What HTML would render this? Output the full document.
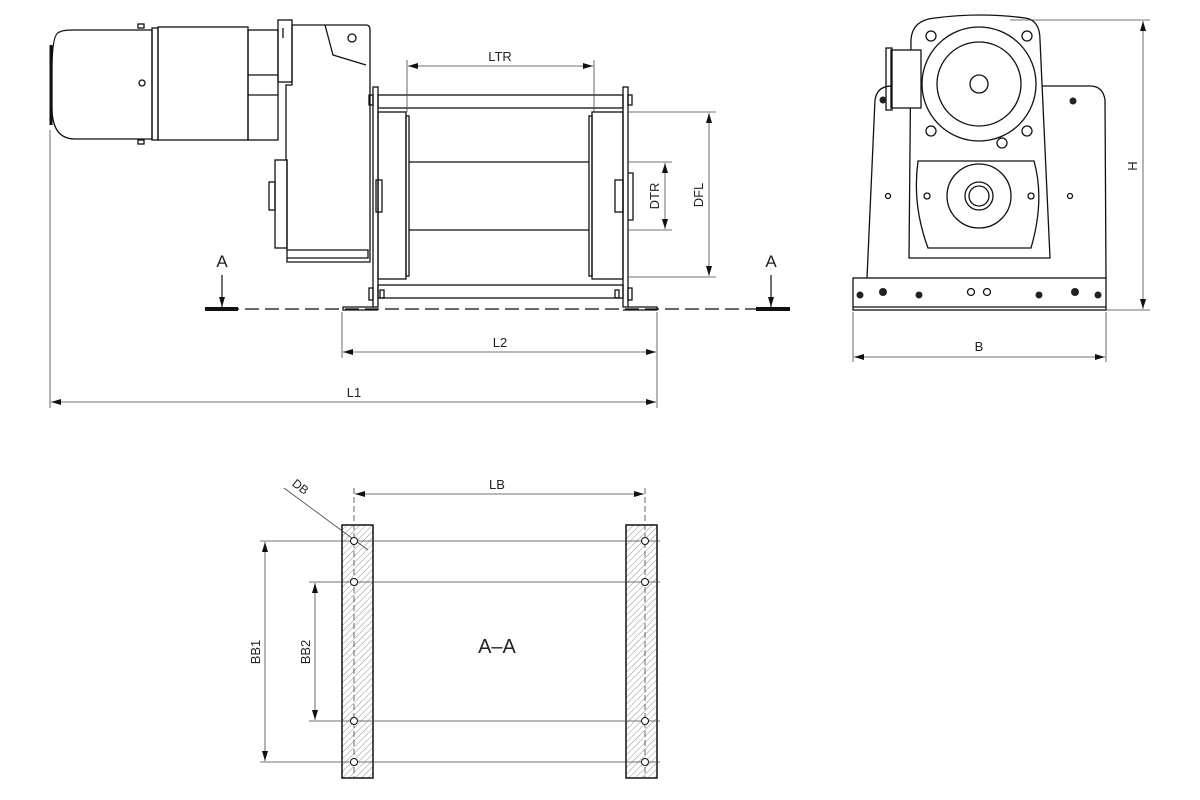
<!DOCTYPE html>
<html><head><meta charset="utf-8"><style>
html,body{margin:0;padding:0;background:#fff;}
svg{display:block;}
text{font-family:"Liberation Sans",sans-serif;fill:#222;}
</style></head><body>
<svg width="1200" height="800" viewBox="0 0 1200 800" xmlns="http://www.w3.org/2000/svg">
<defs>
<marker id="ar" viewBox="0 0 10 6" refX="10" refY="3" markerWidth="10" markerHeight="6" orient="auto-start-reverse" markerUnits="userSpaceOnUse"><path d="M0,0L10,3L0,6z" fill="#111"/></marker>
<pattern id="hatch" width="4.5" height="4.5" patternUnits="userSpaceOnUse" patternTransform="rotate(45)"><line x1="0" y1="0" x2="0" y2="4.5" stroke="#888" stroke-width="0.9"/></pattern>
</defs>
<g fill="none" stroke="#111" stroke-width="1.3">
<!-- Motor -->
<path d="M60,32 Q52,32 52,70 L52,108 Q52,139 75,139 L152,139 L152,30 L75,30 Q62,30 60,32z" fill="#fff"/>
<line x1="51" y1="45" x2="51" y2="125" stroke-width="3"/>
<rect x="152" y="28" width="6" height="112"/>
<rect x="158" y="27" width="90" height="113"/>
<circle cx="142" cy="83" r="3"/>
<rect x="138" y="24" width="6" height="4"/><rect x="138" y="140" width="6" height="4"/>
<rect x="248" y="30" width="30" height="110"/>
<line x1="248" y1="75" x2="278" y2="75"/><line x1="248" y1="95" x2="278" y2="95"/>
<rect x="278" y="20" width="14" height="62"/>
<line x1="283" y1="28" x2="283" y2="38"/>
<!-- Gearbox -->
<path d="M292,25 L366,25 Q370,25 370,30 L370,262 L287,262 L287,160 L286,160 L286,85 L292,85z"/>
<path d="M325,25 L333,55 L366,65"/>
<circle cx="352" cy="38" r="4"/>
<rect x="275" y="160" width="12" height="88"/>
<rect x="269" y="182" width="6" height="28"/>
<path d="M287,250 L368,250 L368,258 L287,258"/>
<!-- Frame -->
<rect x="373" y="87" width="5" height="220"/>
<rect x="623" y="87" width="5" height="220"/>
<rect x="378" y="95" width="245" height="13"/>
<rect x="378" y="285" width="245" height="13"/>
<rect x="378" y="112" width="28" height="167"/>
<rect x="406" y="116" width="3" height="160"/>
<rect x="592" y="112" width="31" height="167"/>
<rect x="589" y="116" width="3" height="160"/>
<line x1="409" y1="162" x2="589" y2="162"/>
<line x1="409" y1="230" x2="589" y2="230"/>
<rect x="376" y="180" width="6" height="32"/>
<rect x="615" y="180" width="8" height="32"/>
<path d="M628,173 L633,173 L633,220 L628,220"/>
<rect x="369" y="95" width="4" height="10"/><rect x="628" y="95" width="4" height="10"/>
<rect x="369" y="288" width="4" height="12"/><rect x="628" y="288" width="4" height="12"/>
<rect x="380" y="290" width="4" height="8"/><rect x="615" y="290" width="4" height="8"/>
<path d="M373,307 L343,307 L343,310 L378,310"/>
<path d="M628,307 L657,307 L657,310 L623,310"/>
</g>
<!-- section line -->
<line x1="205" y1="309" x2="790" y2="309" stroke="#111" stroke-width="1.3" stroke-dasharray="14,6"/>
<line x1="205" y1="309" x2="238" y2="309" stroke="#111" stroke-width="4"/>
<line x1="756" y1="309" x2="790" y2="309" stroke="#111" stroke-width="4"/>
<line x1="222" y1="275" x2="222" y2="307" stroke="#111" stroke-width="1.2" marker-end="url(#ar)"/>
<line x1="771" y1="275" x2="771" y2="307" stroke="#111" stroke-width="1.2" marker-end="url(#ar)"/>
<text x="222" y="267" font-size="17" text-anchor="middle">A</text>
<text x="771" y="267" font-size="17" text-anchor="middle">A</text>
<!-- dimensions side -->
<g stroke="#444" stroke-width="0.8" fill="none">
<line x1="407" y1="60" x2="407" y2="112"/><line x1="594" y1="60" x2="594" y2="112"/>
<line x1="408" y1="66" x2="593" y2="66" marker-start="url(#ar)" marker-end="url(#ar)"/>
<line x1="628" y1="162" x2="672" y2="162"/><line x1="628" y1="230" x2="672" y2="230"/>
<line x1="665" y1="163" x2="665" y2="229" marker-start="url(#ar)" marker-end="url(#ar)"/>
<line x1="628" y1="112" x2="716" y2="112"/><line x1="628" y1="277" x2="716" y2="277"/>
<line x1="709" y1="113" x2="709" y2="276" marker-start="url(#ar)" marker-end="url(#ar)"/>
<line x1="342" y1="312" x2="342" y2="358"/><line x1="657" y1="312" x2="657" y2="408"/>
<line x1="343" y1="352" x2="656" y2="352" marker-start="url(#ar)" marker-end="url(#ar)"/>
<line x1="50" y1="130" x2="50" y2="408"/>
<line x1="51" y1="402" x2="656" y2="402" marker-start="url(#ar)" marker-end="url(#ar)"/>
</g>
<text x="500" y="61" font-size="13" text-anchor="middle">LTR</text>
<text x="500" y="347" font-size="13" text-anchor="middle">L2</text>
<text x="354" y="397" font-size="13" text-anchor="middle">L1</text>
<text transform="translate(659,196) rotate(-90)" font-size="13" text-anchor="middle">DTR</text>
<text transform="translate(703,195) rotate(-90)" font-size="13" text-anchor="middle">DFL</text>
<!-- Front view -->
<g fill="none" stroke="#111" stroke-width="1.3">
<path d="M867,278 L875,100 Q877,86 892,86 L1090,86 Q1103,86 1105,100 L1106,278"/>
<path d="M909,258 L911,40 Q912,20 935,18 Q980,12 1025,18 Q1040,20 1040,40 L1050,258z" fill="#fff"/>
<circle cx="979" cy="84" r="57" fill="#fff"/>
<circle cx="979" cy="84" r="42"/>
<circle cx="979" cy="84" r="9"/>
<circle cx="931" cy="36" r="5"/><circle cx="1027" cy="36" r="5"/>
<circle cx="931" cy="131" r="5"/><circle cx="1027" cy="131" r="5"/>
<rect x="891" y="50" width="30" height="58" fill="#fff"/><rect x="886" y="48" width="6" height="62"/>
<circle cx="1002" cy="143" r="5"/>
<path d="M918,161 L1034,161 Q1045,200 1031,248 L928,248 Q912,205 918,161z"/>
<circle cx="979" cy="196" r="32"/>
<circle cx="979" cy="196" r="14"/><circle cx="979" cy="196" r="10"/>
<circle cx="927" cy="196" r="3"/><circle cx="1031" cy="196" r="3"/>
<circle cx="888" cy="196" r="2.5"/><circle cx="1070" cy="196" r="2.5"/>
<rect x="853" y="278" width="253" height="32" fill="#fff"/>
<line x1="853" y1="307" x2="1106" y2="307"/>
<circle cx="971" cy="292" r="3.5"/><circle cx="987" cy="292" r="3.5"/>
</g>
<g fill="#222">
<circle cx="860" cy="295" r="3.5"/><circle cx="883" cy="292" r="4"/><circle cx="919" cy="295" r="3.5"/>
<circle cx="1039" cy="295" r="3.5"/><circle cx="1075" cy="292" r="4"/><circle cx="1098" cy="295" r="3.5"/>
<circle cx="883" cy="100" r="3.5"/><circle cx="1073" cy="101" r="3.5"/>
</g>
<g stroke="#444" stroke-width="0.8" fill="none">
<line x1="1010" y1="20" x2="1150" y2="20"/><line x1="1106" y1="310" x2="1150" y2="310"/>
<line x1="1143" y1="21" x2="1143" y2="309" marker-start="url(#ar)" marker-end="url(#ar)"/>
<line x1="853" y1="312" x2="853" y2="362"/><line x1="1106" y1="312" x2="1106" y2="362"/>
<line x1="854" y1="357" x2="1105" y2="357" marker-start="url(#ar)" marker-end="url(#ar)"/>
</g>
<text transform="translate(1137,166) rotate(-90)" font-size="13" text-anchor="middle">H</text>
<text x="979" y="351" font-size="13" text-anchor="middle">B</text>
<!-- Section A-A -->
<rect x="342" y="525" width="31" height="253" fill="url(#hatch)" stroke="#111" stroke-width="1.5"/>
<rect x="626" y="525" width="31" height="253" fill="url(#hatch)" stroke="#111" stroke-width="1.5"/>
<g stroke="#444" stroke-width="0.8" fill="none">
<line x1="260" y1="541" x2="660" y2="541"/>
<line x1="309" y1="582" x2="660" y2="582"/>
<line x1="309" y1="721" x2="660" y2="721"/>
<line x1="260" y1="762" x2="660" y2="762"/>
<line x1="354" y1="488" x2="354" y2="778" stroke-dasharray="6,3"/>
<line x1="645" y1="488" x2="645" y2="778" stroke-dasharray="6,3"/>
<line x1="355" y1="494" x2="644" y2="494" marker-start="url(#ar)" marker-end="url(#ar)"/>
<line x1="265" y1="542" x2="265" y2="761" marker-start="url(#ar)" marker-end="url(#ar)"/>
<line x1="315" y1="583" x2="315" y2="720" marker-start="url(#ar)" marker-end="url(#ar)"/>
<line x1="284" y1="488" x2="368" y2="550"/>
</g>
<g fill="#fff" stroke="#111" stroke-width="1">
<circle cx="354" cy="541" r="3.5"/><circle cx="354" cy="582" r="3.5"/><circle cx="354" cy="721" r="3.5"/><circle cx="354" cy="762" r="3.5"/>
<circle cx="645" cy="541" r="3.5"/><circle cx="645" cy="582" r="3.5"/><circle cx="645" cy="721" r="3.5"/><circle cx="645" cy="762" r="3.5"/>
</g>
<text x="497" y="489" font-size="13" text-anchor="middle">LB</text>
<text transform="translate(298,490) rotate(37)" font-size="12" text-anchor="middle">DB</text>
<text transform="translate(260,652) rotate(-90)" font-size="13" text-anchor="middle">BB1</text>
<text transform="translate(310,652) rotate(-90)" font-size="13" text-anchor="middle">BB2</text>
<text x="497" y="653" font-size="20" text-anchor="middle">A–A</text>
</svg>
</body></html>
